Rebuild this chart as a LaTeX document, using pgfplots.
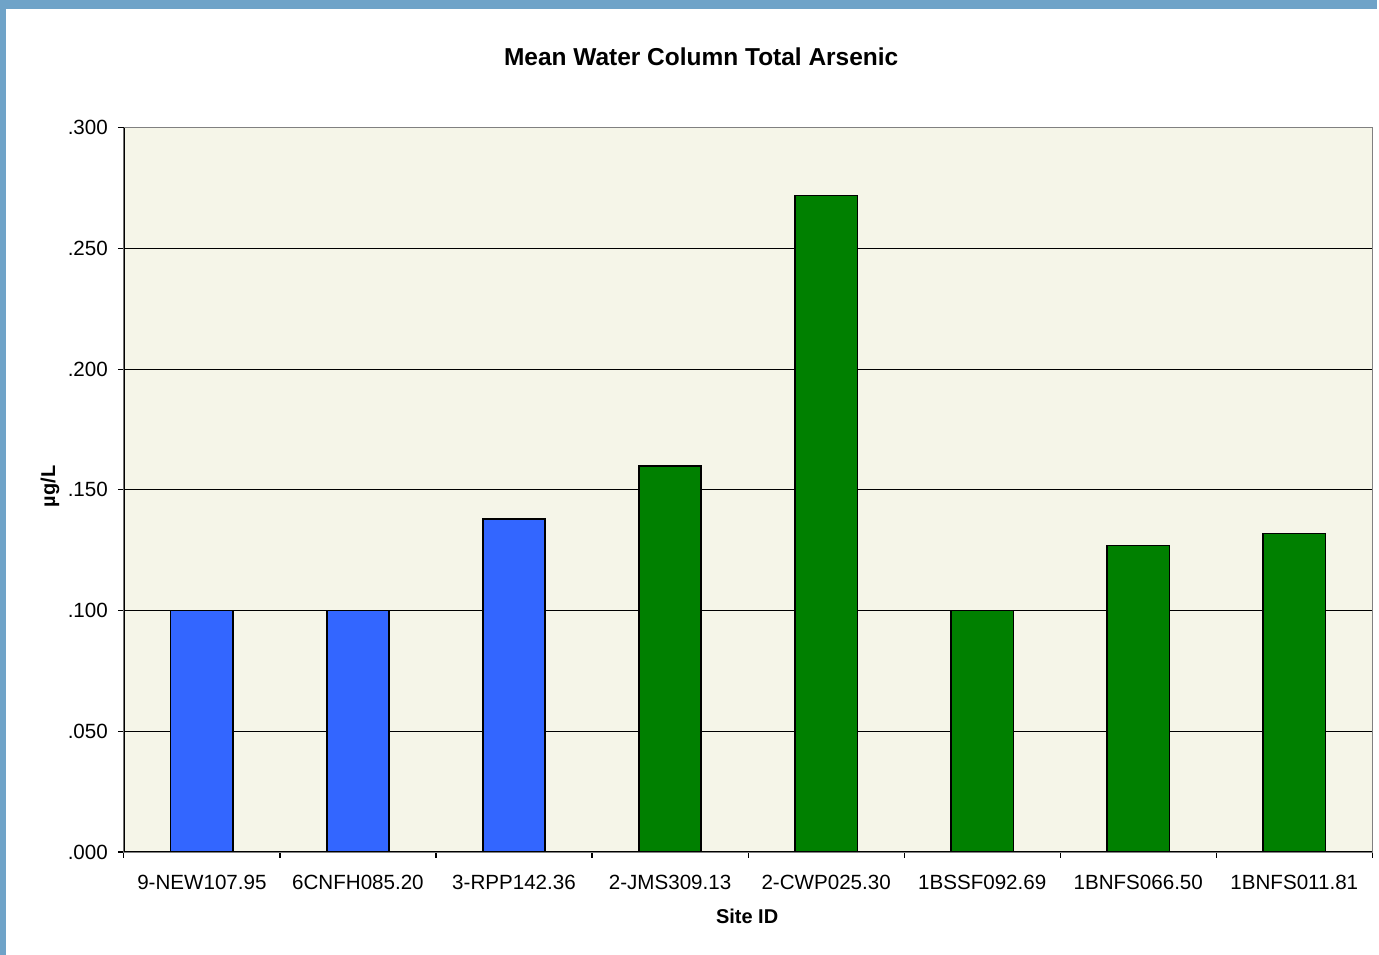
\documentclass[border=0pt]{standalone}
\usepackage{fontspec}
\setmainfont{Liberation Sans}
\usepackage{pgfplots}
\pgfplotsset{compat=1.18}
\definecolor{barblue}{HTML}{3366FF}
\definecolor{bargreen}{HTML}{008000}
\definecolor{plotbg}{HTML}{F5F5E8}
\definecolor{frameblue}{HTML}{6FA3C8}
\begin{document}
\begin{tikzpicture}[x=0.5pt,y=0.5pt]
\fill[frameblue] (0,0) rectangle (1379,956);
\fill[white] (6,0) rectangle (1379,947);
\begin{axis}[
  at={(62pt,51.5pt)}, anchor=south west,
  scale only axis, width=625pt, height=362.5pt,
  xmin=-0.5, xmax=7.5, ymin=0, ymax=0.3,
  axis background/.style={fill=plotbg},
  axis line style={draw=gray},
  /pgf/number format/assume math mode=true,
  xtick={-0.5,0.5,...,7.5},
  xticklabels={},
  x tick style={black, line width=0.6pt},
  extra x ticks={0,...,7},
  extra x tick labels={9-NEW107.95,6CNFH085.20,3-RPP142.36,2-JMS309.13,2-CWP025.30,1BSSF092.69,1BNFS066.50,1BNFS011.81},
  extra x tick style={major tick length=0pt, xticklabel style={yshift=-8pt}},
  major tick length=3pt,
  tick align=outside,
  xtick pos=lower, ytick pos=left,
  ytick={0,0.05,0.1,0.15,0.2,0.25},
  yticklabels={.000,.050,.100,.150,.200,.250},
  yticklabel style={xshift=-1.5pt},
  extra y ticks={0.3},
  extra y tick labels={.300},
  extra y tick style={grid=none},
  y tick style={black, line width=0.6pt},
  ymajorgrids, grid style={black, line width=0.6pt},
  ticklabel style={font=\fontsize{10.3}{12}\selectfont},
  title={\bfseries Mean Water Column Total Arsenic},
  title style={font=\fontsize{12.25}{14}\selectfont, at={(rel axis cs:0.4624,1.081)}, anchor=center},
  xlabel={\bfseries Site ID},
  xlabel style={font=\fontsize{10}{12}\selectfont, at={(rel axis cs:0.4992,-0.0883)}, anchor=center},
  ylabel={\bfseries µg/L},
  ylabel style={font=\fontsize{10}{12}\selectfont, at={(rel axis cs:-0.0592,0.505)}, anchor=center, rotate=0},
  ybar, bar width=0.4, bar shift=0pt,
]
\addplot[fill=barblue, draw=black, line width=0.8pt] coordinates {(0,0.100) (1,0.100) (2,0.138)};
\addplot[fill=bargreen, draw=black, line width=0.8pt] coordinates {(3,0.160) (4,0.272) (5,0.100) (6,0.127) (7,0.132)};
\draw[black, line width=0.7pt] (rel axis cs:0,0) -- (rel axis cs:0,1);
\draw[black, line width=0.7pt] (rel axis cs:0,0) -- (rel axis cs:1,0);
\end{axis}
\end{tikzpicture}
\end{document}
